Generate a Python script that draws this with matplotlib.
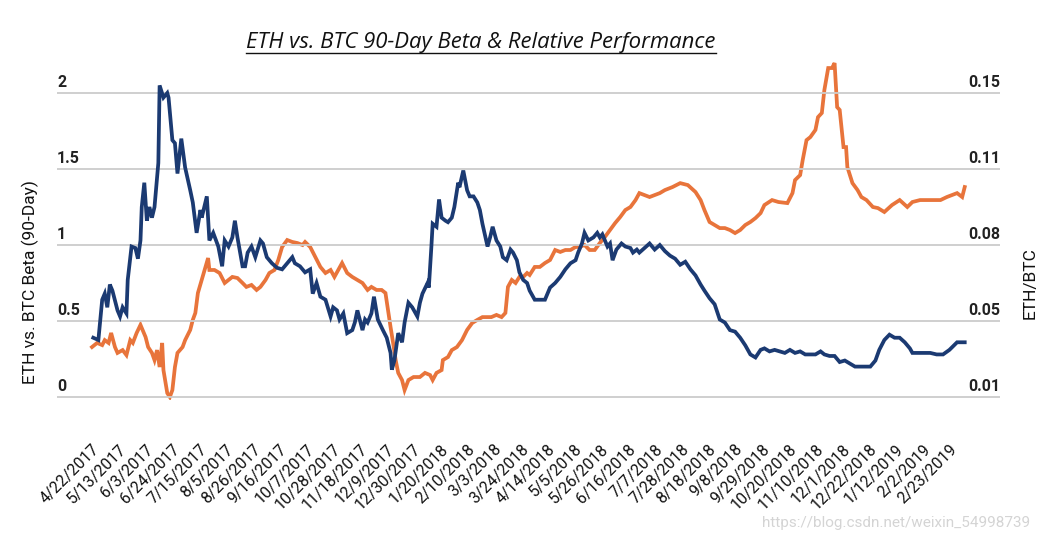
import datetime as dt

import matplotlib
matplotlib.use('Agg')
import matplotlib.pyplot as plt
import matplotlib.transforms as mtransforms
from matplotlib.lines import Line2D

plt.rcParams['font.family'] = ['Roboto', 'DejaVu Sans']

# dates on the x axis (every 3 weeks)
tick_labels = ['4/22/2017', '5/13/2017', '6/3/2017', '6/24/2017', '7/15/2017', '8/5/2017',
               '8/26/2017', '9/16/2017', '10/7/2017', '10/28/2017', '11/18/2017', '12/9/2017',
               '12/30/2017', '1/20/2018', '2/10/2018', '3/3/2018', '3/24/2018', '4/14/2018',
               '5/5/2018', '5/26/2018', '6/16/2018', '7/7/2018', '7/28/2018', '8/18/2018',
               '9/8/2018', '9/29/2018', '10/20/2018', '11/10/2018', '12/1/2018', '12/22/2018',
               '1/12/2019', '2/2/2019', '2/23/2019']

left_ticks = [0, 0.5, 1, 1.5, 2]
left_labels = ['0', '0.5', '1', '1.5', '2']
right_ticks = [0.01, 0.045, 0.08, 0.115, 0.15]
right_labels = ['0.01', '0.05', '0.08', '0.11', '0.15']

# (days since 4/22/2017, 90-day beta)
beta_points = [
    (1, 0.39), (5, 0.375), (8, 0.64), (10, 0.68), (12, 0.59), (14, 0.74), (16, 0.70), (20, 0.57),
    (22, 0.53), (24, 0.59), (27, 0.55), (28, 0.77), (31, 0.99), (34, 0.98), (36, 0.91), (38, 1.03),
    (39, 1.25), (41, 1.41), (43, 1.16), (45, 1.25), (47, 1.18), (49, 1.25), (52, 1.54), (53, 2.05),
    (56, 1.97), (59, 2.00), (60, 1.97), (63, 1.69), (65, 1.67), (67, 1.47), (70, 1.70), (73, 1.51),
    (77, 1.36), (79, 1.28), (82, 1.08), (85, 1.23), (86, 1.18), (90, 1.32), (92, 1.03), (95, 1.08),
    (99, 0.99), (102, 0.86), (104, 1.03), (107, 0.99), (110, 1.05), (112, 1.16), (114, 1.05),
    (118, 0.86), (120, 0.86), (122, 0.95), (125, 0.99), (128, 0.92), (132, 1.03), (134, 1.01),
    (137, 0.92), (141, 0.88), (145, 0.85), (149, 0.84), (153, 0.88), (157, 0.92), (159, 0.88),
    (163, 0.86), (167, 0.82), (171, 0.84), (173, 0.68), (176, 0.75), (179, 0.66), (183, 0.64),
    (187, 0.53), (189, 0.59), (192, 0.57), (194, 0.51), (197, 0.55), (200, 0.42), (204, 0.44),
    (206, 0.49), (208, 0.57), (212, 0.44), (214, 0.51), (216, 0.49), (219, 0.55), (221, 0.66),
    (224, 0.51), (228, 0.44), (231, 0.39), (234, 0.29), (235, 0.18), (237, 0.24), (240, 0.42),
    (243, 0.36), (245, 0.49), (248, 0.62), (251, 0.59), (255, 0.53), (257, 0.62), (259, 0.68),
    (263, 0.75), (264, 0.72), (266, 0.99), (267, 1.14), (270, 1.12), (272, 1.30), (274, 1.18),
    (277, 1.16), (279, 1.15), (282, 1.18), (284, 1.25), (287, 1.41), (288, 1.38), (291, 1.49),
    (294, 1.36), (296, 1.32), (299, 1.32), (302, 1.28), (304, 1.23), (306, 1.14), (310, 0.99),
    (312, 1.05), (314, 1.12), (317, 1.03), (320, 0.99), (322, 0.92), (325, 0.90), (328, 0.97),
    (330, 0.95), (333, 0.90), (335, 0.82), (338, 0.77), (341, 0.75), (343, 0.70), (347, 0.64),
    (351, 0.64), (355, 0.64), (359, 0.72), (363, 0.75), (367, 0.79), (371, 0.84), (375, 0.88),
    (379, 0.90), (381, 0.95), (384, 1.01), (386, 1.08), (389, 1.03), (393, 1.05), (396, 1.08),
    (398, 1.05), (400, 1.07), (404, 0.99), (406, 1.01), (408, 0.90), (411, 0.97), (415, 1.01),
    (418, 0.99), (422, 0.98), (424, 0.95), (427, 0.97), (429, 0.95), (433, 0.98), (437, 1.01),
    (441, 0.97), (445, 1.00), (449, 0.96), (453, 0.93), (457, 0.91), (461, 0.87), (465, 0.89),
    (469, 0.84), (473, 0.80), (477, 0.74), (480, 0.70), (484, 0.65), (488, 0.61), (492, 0.51),
    (496, 0.49), (500, 0.44), (504, 0.43), (508, 0.39), (512, 0.34), (516, 0.28), (520, 0.26),
    (524, 0.31), (527, 0.32), (531, 0.30), (535, 0.31), (539, 0.30), (543, 0.29), (547, 0.31),
    (551, 0.29), (555, 0.30), (559, 0.28), (563, 0.28), (567, 0.28), (571, 0.30), (574, 0.28),
    (578, 0.27), (582, 0.27), (586, 0.23), (590, 0.24), (594, 0.22), (598, 0.20), (602, 0.20),
    (606, 0.20), (610, 0.20), (614, 0.24), (617, 0.31), (621, 0.375), (625, 0.41), (629, 0.39),
    (633, 0.39), (637, 0.36), (641, 0.32), (643, 0.29), (649, 0.29), (657, 0.29), (662, 0.28),
    (667, 0.28), (672, 0.31), (678, 0.36), (684, 0.36),
]

# (days since 4/22/2017, ETH/BTC price)
eth_points = [
    (0, 0.0330), (4, 0.0349), (8, 0.0339), (10, 0.0362), (13, 0.0349), (15, 0.0395), (18, 0.0330),
    (20, 0.0303), (24, 0.0316), (27, 0.0293), (30, 0.0362), (32, 0.0349), (35, 0.0395), (38, 0.0432),
    (42, 0.0376), (44, 0.0330), (47, 0.0303), (49, 0.0270), (51, 0.0316), (53, 0.0238), (55, 0.0349),
    (56, 0.0224), (59, 0.0118), (61, 0.0100), (63, 0.0132), (65, 0.0238), (67, 0.0303), (71, 0.0330),
    (73, 0.0362), (77, 0.0409), (79, 0.0455), (81, 0.0487), (83, 0.0579), (86, 0.0639), (89, 0.0699),
    (91, 0.0740), (92, 0.0685), (96, 0.0685), (100, 0.0671), (104, 0.0625), (107, 0.0639),
    (110, 0.0653), (114, 0.0648), (118, 0.0625), (121, 0.0607), (125, 0.0616), (129, 0.0593),
    (132, 0.0607), (136, 0.0639), (139, 0.0671), (143, 0.0685), (146, 0.0731), (149, 0.0791),
    (153, 0.0823), (157, 0.0814), (161, 0.0809), (165, 0.0800), (167, 0.0814), (171, 0.0791),
    (175, 0.0745), (179, 0.0699), (183, 0.0671), (187, 0.0685), (190, 0.0653), (193, 0.0685),
    (196, 0.0717), (200, 0.0671), (204, 0.0653), (208, 0.0639), (212, 0.0625), (216, 0.0593),
    (219, 0.0607), (223, 0.0593), (227, 0.0593), (230, 0.0579), (232, 0.0501), (234, 0.0422),
    (236, 0.0349), (238, 0.0270), (240, 0.0211), (243, 0.0178), (245, 0.0132), (248, 0.0178),
    (252, 0.0192), (257, 0.0192), (261, 0.0211), (265, 0.0201), (267, 0.0178), (270, 0.0211),
    (274, 0.0224), (275, 0.0270), (279, 0.0284), (282, 0.0316), (286, 0.0330), (290, 0.0362),
    (294, 0.0409), (298, 0.0441), (302, 0.0455), (306, 0.0468), (310, 0.0468), (313, 0.0468),
    (317, 0.0478), (321, 0.0468), (324, 0.0487), (326, 0.0607), (329, 0.0639), (332, 0.0625),
    (335, 0.0653), (338, 0.0653), (341, 0.0671), (343, 0.0662), (347, 0.0699), (351, 0.0699),
    (355, 0.0717), (359, 0.0731), (363, 0.0777), (367, 0.0768), (371, 0.0777), (375, 0.0777),
    (379, 0.0791), (382, 0.0791), (386, 0.0800), (390, 0.0777), (394, 0.0777), (398, 0.0809),
    (402, 0.0837), (406, 0.0869), (410, 0.0901), (414, 0.0929), (418, 0.0961), (422, 0.0975),
    (426, 0.1007), (429, 0.1039), (437, 0.1021), (445, 0.1039), (449, 0.1053), (455, 0.1067),
    (461, 0.1085), (467, 0.1076), (473, 0.1044), (477, 0.1007), (480, 0.0961), (484, 0.0906),
    (488, 0.0892), (492, 0.0878), (496, 0.0878), (500, 0.0869), (504, 0.0855), (508, 0.0869),
    (512, 0.0892), (516, 0.0906), (520, 0.0924), (524, 0.0947), (527, 0.0984), (533, 0.1007),
    (538, 0.0998), (545, 0.0993), (549, 0.1039), (551, 0.1099), (555, 0.1122), (557, 0.1191),
    (560, 0.1283), (563, 0.1297), (567, 0.1330), (569, 0.1389), (572, 0.1408), (574, 0.1514),
    (577, 0.1615), (580, 0.1615), (582, 0.1638), (584, 0.1435), (586, 0.1422), (589, 0.1251),
    (591, 0.1251), (592, 0.1159), (596, 0.1085), (600, 0.1053), (603, 0.1021), (607, 0.1007),
    (612, 0.0975), (616, 0.0970), (621, 0.0952), (627, 0.0984), (633, 0.1007), (639, 0.0975),
    (643, 0.0998), (649, 0.1007), (657, 0.1007), (665, 0.1007), (670, 0.1021), (678, 0.1039),
    (682, 0.1021), (684, 0.1067),
]

BLUE = '#1b3a72'
ORANGE = '#e8743b'
GRID = '#cccccc'

start = dt.date(2017, 4, 22)
tick_days = [(dt.datetime.strptime(s, '%m/%d/%Y').date() - start).days for s in tick_labels]
beta_x, beta_y = zip(*beta_points)
eth_x, eth_y = zip(*eth_points)

fig = plt.figure(figsize=(10.64, 5.42), dpi=100)
ax = fig.add_axes([0.0536, 0.262, 0.8862, 0.6365])
ax2 = ax.twinx()
# beta line on top of the ETH/BTC line
ax.set_zorder(ax2.get_zorder() + 1)
ax.patch.set_visible(False)

ax2.plot(eth_x, eth_y, color=ORANGE, lw=2.7, solid_joinstyle='miter')
ax.plot(beta_x, beta_y, color=BLUE, lw=2.7, solid_joinstyle='miter')

ax.set_xlim(-27.4, 711.6)
ax.set_ylim(-0.0197, 2.25)
ax2.set_ylim(0.00862, 0.1675)

for a in (ax, ax2):
    for s in a.spines.values():
        s.set_visible(False)
    a.set_yticks([])

for v in left_ticks:
    ax.axhline(v, color=GRID, lw=1.3, zorder=0)

# y tick labels sit on top of the gridlines, inside the plot
lab_kw = dict(fontsize=11.5, fontweight='bold', color='#222222', va='bottom')
tr_l = mtransforms.offset_copy(ax.get_yaxis_transform(), fig=fig, y=3, units='dots')
for v, s in zip(left_ticks, left_labels):
    ax.text(0, v, s, transform=tr_l, ha='left', **lab_kw)
tr_r = mtransforms.offset_copy(ax2.get_yaxis_transform(), fig=fig, y=3, units='dots')
for v, s in zip(right_ticks, right_labels):
    ax2.text(1, v, s, transform=tr_r, ha='right', **lab_kw)

ax.set_xticks(tick_days)
ax.set_xticklabels(tick_labels, rotation=45, ha='right', rotation_mode='anchor', fontsize=11.5,
                   color='#111111')
ax.tick_params(axis='x', length=0, pad=30)

fig.text(30 / 1064, 1 - 282 / 542, 'ETH vs. BTC Beta (90-Day)', rotation=90, ha='center',
         va='center', fontsize=12.5, color='#111111')
fig.text(1030 / 1064, 1 - 283 / 542, 'ETH/BTC', rotation=90, ha='center', va='center',
         fontsize=12.5, color='#111111')

title = fig.text(481 / 1064, 1 - 48 / 542, 'ETH vs. BTC 90-Day Beta & Relative Performance',
                 ha='center', va='baseline', fontsize=15.9, style='italic',
                 family=['Open Sans', 'DejaVu Sans'], color='#111111')
fig.canvas.draw()
bb = title.get_window_extent()
fig.add_artist(Line2D([bb.x0 / 1064, bb.x1 / 1064], [1 - 53 / 542, 1 - 53 / 542],
                      color='#111111', lw=1.0))

fig.text(1030 / 1064, 1 - 523 / 542, 'https://blog.csdn.net/weixin_54998739', ha='right',
         va='center', fontsize=11, color='#d4d4d4')

fig.savefig('out.png', dpi=100)
